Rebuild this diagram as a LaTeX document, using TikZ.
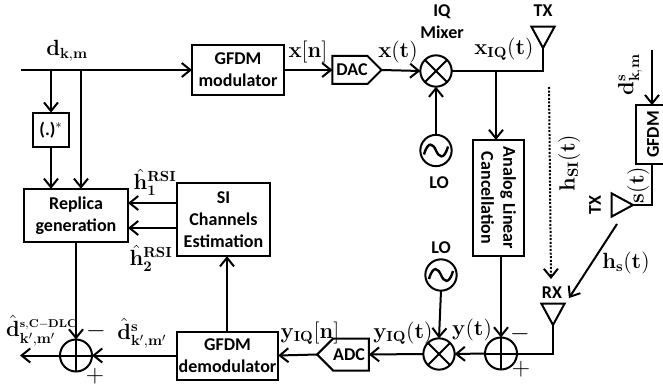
\documentclass[tikz,border=0pt]{standalone}
\usepackage{fix-cm}
\usepackage[no-math]{fontspec}
\usepackage{amsmath}
\setmainfont{Carlito}
\DeclareMathSizes{16.5}{16.5}{11}{8.5}
\usetikzlibrary{arrows.meta,shapes.geometric,shapes.symbols}
\begin{document}
\begin{tikzpicture}[x=0.75pt, y=-0.75pt, line width=1.5pt,
    >={Straight Barb[length=6.5pt,width=10.5pt,line width=1.5pt]},
    block/.style={draw, align=center, inner sep=0pt, outer sep=0pt, font=\fontsize{13.5}{16.5}\selectfont\bfseries},
    tag/.style={inner sep=0pt, align=center, font=\fontsize{13.5}{16.5}\selectfont\bfseries},
    sym/.style={inner sep=0pt, font=\fontsize{16.5}{18}\selectfont},
    sgn/.style={inner sep=0pt, font=\fontsize{19}{19}\selectfont},
    conv/.style={block, signal, signal pointer angle=90, minimum width=35pt},
    antenna/.style={draw, isosceles triangle, isosceles triangle apex angle=57, minimum height=16pt, inner sep=0pt, outer sep=0pt, shape border rotate=#1, anchor=apex},
    sumnode/.style={draw, circle, minimum size=24pt, inner sep=0pt, outer sep=0pt, path picture={
        \draw (path picture bounding box.north) -- (path picture bounding box.south);
        \draw (path picture bounding box.west) -- (path picture bounding box.east);}},
    mixnode/.style={draw, circle, minimum size=23.5pt, inner sep=0pt, outer sep=0pt, path picture={
        \draw (path picture bounding box.north west) -- (path picture bounding box.south east);
        \draw (path picture bounding box.north east) -- (path picture bounding box.south west);}},
    osc/.style={draw, circle, minimum size=23.5pt, inner sep=0pt, outer sep=0pt, path picture={
        \draw[line width=1.8pt, shift={(path picture bounding box.center)}] (-12,4) .. controls (-8,-10) and (-3,-7) .. (0,0) .. controls (3,7) and (8,10) .. (12,-4);}}]
    \useasboundingbox (0,0) rectangle (663,392);

    % 发射链路
    \coordinate (input) at (21,70);
    \coordinate (conjtap) at (51,70);
    \coordinate (reptap) at (81,70);
    \node[block, minimum width=69pt, minimum height=37.5pt] (gfdmmod) at (238,70) {GFDM\\modulator};
    \node[conv, signal to=east, minimum height=21pt] (dac) at (350,70) {\hspace{3pt}DAC};
    \node[mixnode] (txmix) at (436,71) {};
    \node[osc] (txlo) at (436,150.5) {};
    \node[tag] (txlolbl) at (439,183) {LO};
    \node[tag] (mixlbl) at (442,22) {IQ\\Mixer};
    \node[antenna=-90] (txant) at (543,48) {};
    \node[tag] (txlbl) at (543,11) {TX};
    \draw[->] (input) -- (gfdmmod.west);
    \draw[->] (gfdmmod.east) -- (dac.west);
    \draw[->] (dac.east) -- (txmix.west);
    \draw[->] (txlo.north) -- (txmix.south);
    \draw (txmix.east) -| (txant.apex);

    % 重构支路
    \node[block, minimum width=27pt, minimum height=26pt] (conj) at (51,130) {(.)$^{*}$};
    \node[block, minimum width=78pt, minimum height=40pt] (replica) at (76,215.5) {Replica\\generation};
    \node[block, minimum width=70pt, minimum height=55pt] (sichan) at (223.5,219.5) {SI\\Channels\\Estimation};
    \coordinate (hone) at (177,203);
    \coordinate (htwo) at (177,228);
    \draw[->] (conjtap) -- (conj.north);
    \draw[->] (conj.south) -- (conj.south |- replica.north);
    \draw[->] (reptap) -- (reptap |- replica.north);
    \draw[->] (hone) -- (hone -| replica.east);
    \draw[->] (htwo) -- (htwo -| replica.east);

    % 接收链路
    \node[block, minimum width=76pt, minimum height=36pt] (gfdmdem) at (227.5,355.5) {GFDM\\demodulator};
    \node[conv, signal to=west, minimum height=24pt] (adc) at (351,354.5) {ADC\hspace{3pt}};
    \node[mixnode] (rxmix) at (439,354) {};
    \node[osc] (rxlo) at (441,275) {};
    \node[tag] (rxlolbl) at (441,248) {LO};
    \node[sumnode] (rxsum) at (501,353.5) {};
    \node[sumnode] (outsum) at (76,355.5) {};
    \coordinate (outend) at (20,355.5);
    \node[antenna=-90] (rxant) at (553,325) {};
    \node[tag] (rxlbl) at (552,293) {RX};
    \coordinate (demtap) at (227,331);
    \draw[->] (demtap) -- (demtap |- sichan.south);
    \draw[->] (adc.west) -- (gfdmdem.east);
    \draw[->] (rxmix.west) -- (adc.east);
    \draw[->] (rxlo.south) -- (rxmix.north);
    \draw[->] (rxsum.west) -- (rxmix.east);
    \draw (rxant.apex) |- (rxsum.east);
    \draw[->] (replica.south) -- (outsum.north);
    \draw[->] (gfdmdem.west) -- (outsum.east);
    \draw[->] (outsum.west) -- (outend);

    % 模拟对消
    \node[block, rotate=-90, minimum width=87pt, minimum height=38pt] (acl) at (498.5,198) {Analog Linear\\Cancellation};
    \coordinate (acltap) at (496,71);
    \draw[->] (acltap) -- (acltap |- acl.west);
    \draw[->] (rxsum.north |- acl.east) -- (rxsum.north);

    % 信道与干扰源
    \coordinate (sistart) at (549,87);
    \coordinate (siend) at (551,279);
    \draw[->, dash pattern=on 1.5pt off 1.2pt] (sistart) -- (siend);
    \node[block, rotate=90, minimum width=44pt, minimum height=25.5pt] (srcmod) at (653,134.5) {GFDM};
    \coordinate (srcin) at (652,50);
    \node[antenna=0] (srcant) at (633,205) {};
    \node[tag, rotate=90] (srclbl) at (595,205) {TX};
    \coordinate (hsstart) at (617,224);
    \coordinate (hsend) at (569,298);
    \draw[->] (srcin) -- (srcin |- srcmod.east);
    \draw (srcin |- srcmod.west) |- (srcant.apex);
    \draw[->] (hsstart) -- (hsend);

    % 符号
    \node[sym] (dlbl) at (67,51) {$\mathbf{d}_{\mathbf{k,m}}$};
    \node[sym] (xnlbl) at (308,52) {$\mathbf{x}[\mathbf{n}]$};
    \node[sym] (xtlbl) at (398,52) {$\mathbf{x}(\mathbf{t})$};
    \node[sym] (xiqlbl) at (504,49) {$\mathbf{x}_{\mathbf{IQ}}(\mathbf{t})$};
    \node[sym] (honelbl) at (155,182) {$\hat{\mathbf{h}}_{\mathbf{1}}^{\mathbf{RSI}}$};
    \node[sym] (htwolbl) at (151,258) {$\hat{\mathbf{h}}_{\mathbf{2}}^{\mathbf{RSI}}$};
    \node[sym, rotate=90] (hsilbl) at (569,163) {$\mathbf{h}_{\mathbf{SI}}(\mathbf{t})$};
    \node[sym, rotate=90] (dslbl) at (630,75) {$\mathbf{d}_{\mathbf{k,m}}^{\mathbf{s}}$};
    \node[sym, rotate=90] (stlbl) at (638,185) {$\mathbf{s}(\mathbf{t})$};
    \node[sym] (hslbl) at (626,263) {$\mathbf{h}_{\mathbf{s}}(\mathbf{t})$};
    \node[sym] (ytlbl) at (472,330) {$\mathbf{y}(\mathbf{t})$};
    \node[sym] (yiqtlbl) at (403,333) {$\mathbf{y}_{\mathbf{IQ}}(\mathbf{t})$};
    \node[sym] (yiqnlbl) at (310,333) {$\mathbf{y}_{\mathbf{IQ}}[\mathbf{n}]$};
    \node[sym] (dhatlbl) at (142,333) {$\hat{\mathbf{d}}_{\mathbf{k',m'}}^{\mathbf{s}}$};
    \node[sym] (dcllbl) at (42,331) {$\hat{\mathbf{d}}_{\mathbf{k',m'}}^{\scriptscriptstyle\mathbf{s,C-DLC}}$};
    \node[sgn] (outminus) at (96,331) {$-$};
    \node[sgn] (outplus) at (95,376) {$+$};
    \node[sgn] (rxminus) at (520,334) {$-$};
    \node[sgn] (rxplus) at (521,369) {$+$};
\end{tikzpicture}
\end{document}
